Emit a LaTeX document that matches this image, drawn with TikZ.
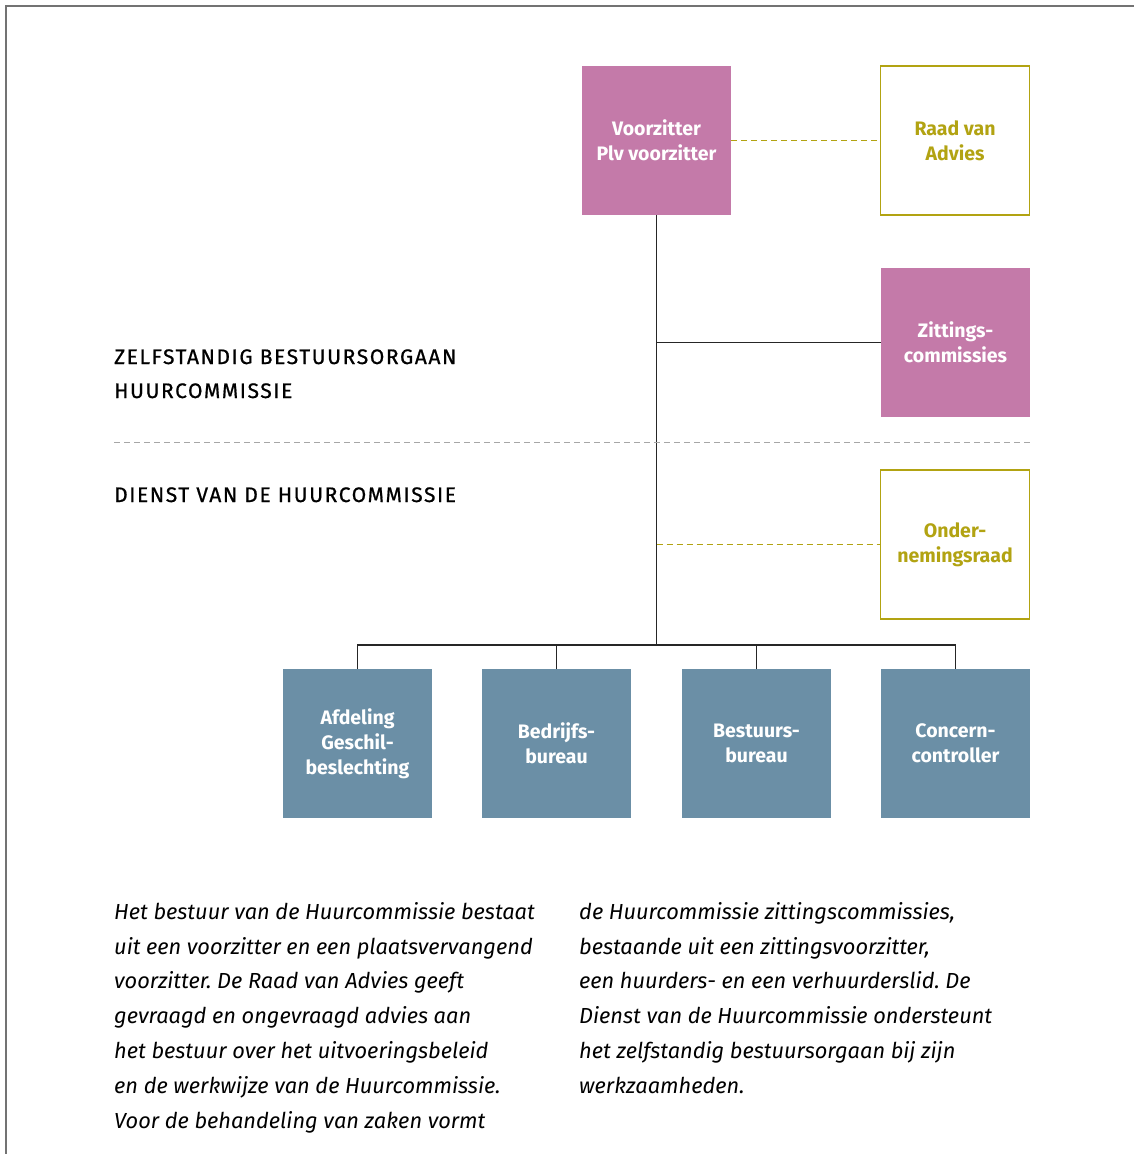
\documentclass[tikz,border=0pt]{standalone}
\usepackage{fontspec}
\setmainfont{Fira Sans}
\usepackage{tikz}
\usepackage{color}

\definecolor{roze}{RGB}{196,122,169}
\definecolor{olijf}{RGB}{178,163,18}
\definecolor{blauw}{RGB}{107,143,166}

\tikzset{
  blok/.style={minimum width=149pt,minimum height=149pt,inner sep=0pt,align=center,
    font=\bfseries\fontsize{19.5}{25}\selectfont},
  bestuur/.style={blok,fill=roze,text=white},
  advies/.style={blok,draw=olijf,line width=1.6pt,fill=white,text=olijf},
  dienst/.style={blok,fill=blauw,text=white},
  lijn/.style={line width=1.2pt,black!85},
  stippel/.style={line width=1.4pt,olijf,dash pattern=on 6pt off 4pt},
  kop/.style={anchor=base west,inner sep=0pt,
    font=\fontsize{21}{24}\selectfont\addfontfeatures{LetterSpace=7.5,FakeBold=0.8}},
  tekst/.style={anchor=north west,inner sep=0pt,align=left,
    font=\itshape\fontsize{21.8}{34.8}\selectfont}
}

\begin{document}
\frenchspacing
\begin{tikzpicture}[x=1pt,y=-1pt]
\useasboundingbox (0,0) rectangle (1134,1154);
\draw[line width=2pt,black!55] (6,1154) -- (6,6) -- (1134,6);

\node[bestuur] (voorz) at (656.5,140.5) {Voorzitter\\Plv voorzitter};
\node[advies] (raad) at (955,140.5) {Raad van\\Advies};
\node[bestuur] (zitt) at (955.5,342.5) {Zittings-\\commissies};
\node[advies] (onder) at (955,544.5) {Onder-\\nemingsraad};

\node[dienst] (afd) at (357.5,743.5) {Afdeling\\Geschil-\\beslechting};
\node[dienst] (bedr) at (556.5,743.5) {Bedrijfs-\\bureau};
\node[dienst] (best) at (756.5,743.5) {Bestuurs-\\bureau};
\node[dienst] (conc) at (955.5,743.5) {Concern-\\controller};

\coordinate (bus) at (656.5,645);
\draw[lijn] (voorz.south) -- (bus);
\draw[lijn] (voorz.south |- zitt.west) -- (zitt.west);
\draw[lijn] (afd.north) |- (bus) -| (conc.north);
\draw[lijn] (bedr.north) -- (bedr.north |- bus);
\draw[lijn] (best.north) -- (best.north |- bus);
\draw[stippel] (voorz.east) -- (raad.west);
\draw[stippel] (voorz.south |- onder.west) -- (onder.west);

% scheiding zbo / dienst
\coordinate (scheidL) at (114,442);
\coordinate (scheidR) at (1030,442);
\draw[line width=1pt,black!35,dash pattern=on 6pt off 4pt] (scheidL) -- (scheidR);

\node[kop] (zbo) at (114,364) {ZELFSTANDIG BESTUURSORGAAN};
\node[kop] (hc) at (114,398) {HUURCOMMISSIE};
\node[kop] (dienstkop) at (114,502) {DIENST VAN DE HUURCOMMISSIE};

\node[tekst] (links) at (114,902) {Het bestuur van de Huurcommissie bestaat\\
uit een voorzitter en een plaatsvervangend\\
voorzitter. De Raad van Advies geeft\\
gevraagd en ongevraagd advies aan\\
het bestuur over het uitvoeringsbeleid\\
en de werkwijze van de Huurcommissie.\\
Voor de behandeling van zaken vormt};
\node[tekst] (rechts) at (579,902) {de Huurcommissie zittingscommissies,\\
bestaande uit een zittingsvoorzitter,\\
een huurders- en een verhuurderslid. De\\
Dienst van de Huurcommissie ondersteunt\\
het zelfstandig bestuursorgaan bij zijn\\
werkzaamheden.};
\end{tikzpicture}
\end{document}
